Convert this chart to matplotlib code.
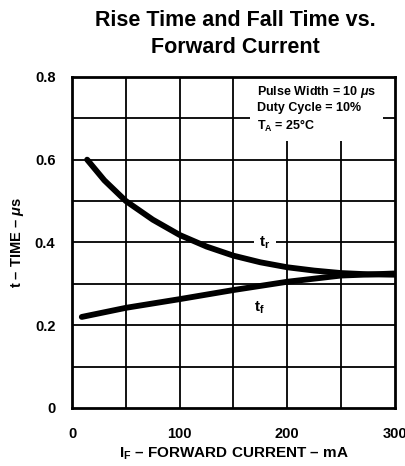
import matplotlib.pyplot as plt

# forward current (mA) and times (us)
i_tr = [14, 30, 50, 75, 100, 125, 150, 175, 200, 225, 250, 275, 300]
t_r = [0.600, 0.550, 0.500, 0.455, 0.418, 0.390, 0.368, 0.352, 0.340, 0.332, 0.326, 0.323, 0.322]
i_tf = [9, 50, 100, 150, 200, 250, 300]
t_f = [0.220, 0.242, 0.263, 0.285, 0.305, 0.320, 0.325]

x_ticks = [0, 100, 200, 300]
y_ticks = [0, 0.2, 0.4, 0.6, 0.8]
y_labels = ['0', '0.2', '0.4', '0.6', '0.8']

plt.rcParams['font.family'] = ['Liberation Sans', 'DejaVu Sans']
plt.rcParams['font.weight'] = 'bold'
plt.rcParams['mathtext.fontset'] = 'custom'
plt.rcParams['mathtext.rm'] = 'Liberation Sans:bold'
plt.rcParams['mathtext.it'] = 'Liberation Sans:bold:italic'

fig = plt.figure(figsize=(4.05, 4.66), dpi=100)
ax = fig.add_axes([0.178, 0.1245, 0.797, 0.7105])

for xv in range(50, 300, 50):
    ax.axvline(xv, color='black', lw=1.3, zorder=1)
for k in range(1, 8):
    ax.axhline(k * 0.1, color='black', lw=1.3, zorder=1)

ax.plot(i_tr, t_r, color='black', lw=4.2, solid_capstyle='round', zorder=3)
ax.plot(i_tf, t_f, color='black', lw=4.2, solid_capstyle='round', zorder=3)

ax.set_xlim(0, 300)
ax.set_ylim(0, 0.8)
ax.set_xticks(x_ticks)
ax.set_yticks(y_ticks)
ax.set_yticklabels(y_labels)
ax.tick_params(length=0, labelsize=10.5, pad=12)
ax.tick_params(axis='x', pad=14)
for lab in ax.get_xticklabels() + ax.get_yticklabels():
    lab.set_fontweight('bold')
for s in ax.spines.values():
    s.set_linewidth(2)
    s.set_zorder(5)

ax.text(172, 0.723, 'Pulse Width = 10 $\\mu$s\nDuty Cycle = 10%\nT$_\\mathregular{A}$ = 25\u00b0C',
        fontsize=9, fontweight='bold', va='center', ha='left', linespacing=1.3,
        bbox=dict(facecolor='white', edgecolor='none', pad=5), zorder=2)
ax.text(179, 0.399, 't$_\\mathregular{r}$', fontsize=11, fontweight='bold', ha='center', va='center',
        bbox=dict(facecolor='white', edgecolor='none', pad=4), zorder=2)
ax.text(174, 0.242, 't$_\\mathregular{f}$', fontsize=11, fontweight='bold', ha='center', va='center', zorder=2)

ax.set_xlabel('I$_\\mathregular{F}$ \u2013 FORWARD CURRENT \u2013 mA', fontsize=11, fontweight='bold', labelpad=3)
ax.set_ylabel('t \u2013 TIME \u2013 $\\mu$s', fontsize=10.5, fontweight='bold', labelpad=6)
fig.text(0.58, 0.957, 'Rise Time and Fall Time vs.', fontsize=15.5, fontweight='bold', ha='center', va='center')
fig.text(0.58, 0.899, 'Forward Current', fontsize=15.5, fontweight='bold', ha='center', va='center')

fig.savefig('out.png', dpi=100)
